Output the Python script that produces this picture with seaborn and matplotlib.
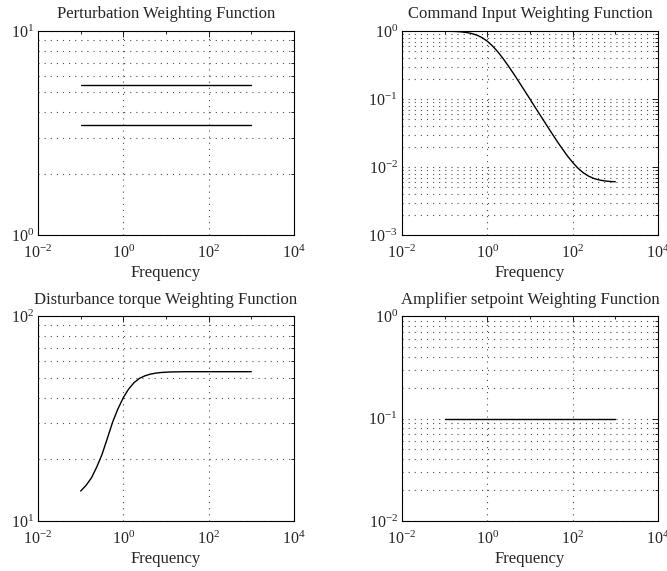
import numpy as np
import pandas as pd
import matplotlib
matplotlib.use("Agg")
import matplotlib.pyplot as plt
import matplotlib.ticker as mticker
import seaborn as sns

# ---- data ----
freq = [0.1, 0.133, 0.178, 0.237, 0.316, 0.422, 0.562, 0.75,
        1.0, 1.33, 1.78, 2.37, 3.16, 4.22, 5.62, 7.5,
        10.0, 13.3, 17.8, 23.7, 31.6, 42.2, 56.2, 75.0,
        100.0, 133.0, 178.0, 237.0, 316.0, 422.0, 562.0, 750.0, 1000.0]

perturb_freq = [0.1, 1000.0]
perturb_hi = [5.42, 5.42]
perturb_lo = [3.45, 3.45]

command = [0.995, 0.991, 0.985, 0.973, 0.953, 0.921, 0.872, 0.800,
           0.707, 0.601, 0.490, 0.389, 0.302, 0.231, 0.175, 0.132,
           0.0997, 0.0750, 0.0564, 0.0426, 0.0322, 0.0244, 0.01877, 0.01461,
           0.01166, 0.00961, 0.00821, 0.00733, 0.00677, 0.00644, 0.00625, 0.00613, 0.00607]

disturbance = [14.0, 14.9, 16.2, 18.3, 21.1, 25.3, 30.4, 35.3,
               40.0, 44.0, 47.3, 49.6, 51.0, 52.0, 52.6, 53.0,
               53.2, 53.35, 53.4, 53.45, 53.5, 53.5, 53.5, 53.5,
               53.5, 53.5, 53.5, 53.5, 53.5, 53.5, 53.5, 53.5, 53.5]

amp_freq = [0.1, 1000.0]
amplifier = [0.1, 0.1]

titles = ["Perturbation Weighting Function",
          "Command Input Weighting Function",
          "Disturbance torque Weighting Function",
          "Amplifier setpoint Weighting Function"]
xlabel = "Frequency"
xlim = (1e-2, 1e4)
ylims = [(1, 10), (1e-3, 1), (10, 100), (1e-2, 1)]
x_major = [1e-2, 1e0, 1e2, 1e4]
x_minor = [1e-1, 1e1, 1e3]

# ---- style ----
sns.set_style("white")
plt.rcParams.update({
    "font.family": ["Liberation Serif", "DejaVu Serif"],
    "mathtext.fontset": "custom",
    "mathtext.rm": "Liberation Serif",
    "mathtext.it": "Liberation Serif:italic",
    "mathtext.bf": "Liberation Serif:bold",
    "axes.unicode_minus": False,
    "axes.edgecolor": "black",
    "axes.linewidth": 0.8,
})

fig = plt.figure(figsize=(6.67, 5.71), dpi=100)
W, H = 667.0, 571.0
boxes = [(38, 31, 294, 235), (402, 31, 658, 235),
         (38, 316, 294, 521), (402, 316, 658, 521)]
axes = []
for (l, t, r, b) in boxes:
    axes.append(fig.add_axes([l / W, 1 - b / H, (r - l) / W, (b - t) / H]))

line_kw = dict(color="black", linewidth=1.0, estimator=None, sort=False, legend=False)

sns.lineplot(x=perturb_freq, y=perturb_hi, ax=axes[0], **line_kw)
sns.lineplot(x=perturb_freq, y=perturb_lo, ax=axes[0], **line_kw)
sns.lineplot(x=freq, y=command, ax=axes[1], **line_kw)
sns.lineplot(x=freq, y=disturbance, ax=axes[2], **line_kw)
sns.lineplot(x=amp_freq, y=amplifier, ax=axes[3], **line_kw)

grid_kw = dict(color="0.3", linewidth=0.8, linestyle=(0, (1, 4.5)))

for ax, title, yl in zip(axes, titles, ylims):
    ax.set_xscale("log")
    ax.set_yscale("log")
    ax.set_xlim(*xlim)
    ax.set_ylim(*yl)
    ax.xaxis.set_major_locator(mticker.FixedLocator(x_major))
    ax.xaxis.set_minor_locator(mticker.FixedLocator(x_minor))
    ax.xaxis.set_major_formatter(mticker.LogFormatterSciNotation())
    ax.xaxis.set_minor_formatter(mticker.NullFormatter())
    ax.yaxis.set_major_locator(mticker.LogLocator(base=10, subs=(1.0,), numticks=20))
    ax.yaxis.set_minor_locator(mticker.LogLocator(base=10, subs=np.arange(2, 10), numticks=20))
    ax.yaxis.set_major_formatter(mticker.LogFormatterSciNotation())
    ax.yaxis.set_minor_formatter(mticker.NullFormatter())
    ax.set_xlim(*xlim)
    ax.set_ylim(*yl)
    ax.tick_params(which="both", direction="in", top=True, right=True,
                   color="black", width=0.6, labelsize=11.5)
    ax.tick_params(which="major", length=4)
    ax.tick_params(which="minor", length=2.5)
    ax.tick_params(axis="x", which="major", pad=7)
    ax.tick_params(axis="y", which="major", pad=3)
    ax.grid(False)
    ax.xaxis.grid(True, which="major", **grid_kw)
    ax.yaxis.grid(True, which="both", **grid_kw)
    ax.set_axisbelow(True)
    for s in ax.spines.values():
        s.set_visible(True)
        s.set_color("black")
        s.set_linewidth(0.8)
    ax.set_title(title, fontsize=12, pad=9)
    ax.set_xlabel(xlabel, fontsize=12, labelpad=2)
    ax.set_ylabel("")

fig.savefig("out.png", dpi=100, facecolor="white")
